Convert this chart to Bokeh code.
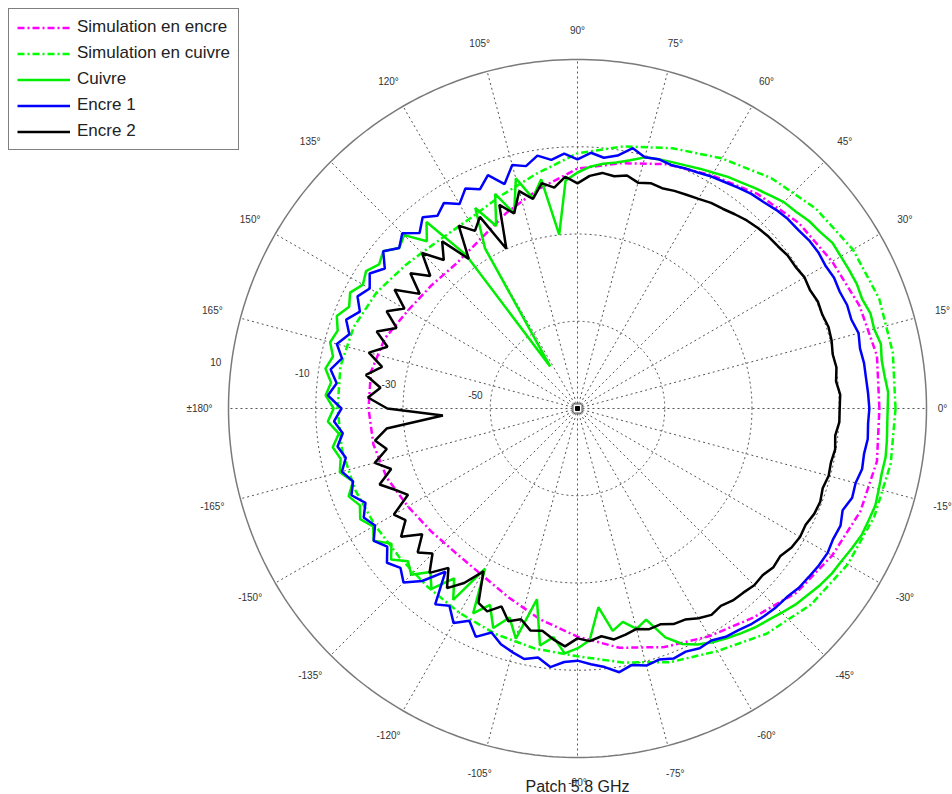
import numpy as np
from bokeh.plotting import figure
from bokeh.models import Range1d, Legend, LegendItem, Label
from bokeh.core.properties import value
from bokeh.embed import file_html
from bokeh.resources import INLINE

# ---------------- data (dB) ----------------
R_MIN = -70
R_MAX = 10

meas_angles = list(range(0, 360, 3))   # degrees
sim_angles = list(range(0, 360, 10))   # degrees

cuivre = [
    1.1, 1.3, 0.8, 0.6, 1.1, 0.4, 0.6, -0.1, 0.1, -0.1,
    -0.3, -0.3, -1.2, -1.7, -2.6, -3.1, -4.2, -5.1, -6.0, -6.7,
    -7.6, -8.3, -9.0, -9.5, -9.9, -10.4, -11.8, -12.9, -13.6, -14.5,
    -15.9, -17.7, -29.9, -16.8, -20.7, -15.4, -23.0, -17.3, -24.2, -18.4,
    -27.6, -58.5, -26.4, -15.0, -18.4, -13.8, -15.0, -12.7, -13.8, -12.2,
    -13.2, -11.5, -12.7, -10.9, -12.2, -11.3, -12.7, -11.5, -13.2, -12.2,
    -14.1, -12.7, -15.0, -13.2, -14.5, -13.6, -15.9, -13.8, -15.4, -14.1,
    -15.9, -14.3, -17.3, -15.0, -17.7, -16.1, -19.6, -16.8, -21.9, -17.7,
    -27.6, -17.3, -20.7, -16.1, -19.6, -15.4, -25.3, -15.0, -17.3, -13.8,
    -15.0, -16.8, -24.2, -18.4, -20.0, -17.7, -19.1, -13.8, -10.9, -9.3,
    -8.1, -7.2, -6.3, -5.4, -4.7, -3.8, -2.8, -2.1, -1.2, -0.5,
    -0.1, 0.6, 1.3, 1.5, 1.8, 1.5, 1.3, 1.5, 1.3, 1.1,
]

encre1 = [
    -3.1, -3.3, -3.5, -3.5, -3.8, -3.3, -4.0, -3.8, -4.2, -4.0,
    -4.4, -4.2, -4.4, -4.9, -5.1, -5.6, -6.3, -6.7, -7.4, -8.1,
    -8.6, -9.3, -9.7, -10.2, -9.9, -10.4, -9.0, -11.3, -12.2, -11.3,
    -12.9, -11.5, -12.7, -11.3, -13.2, -12.2, -15.9, -12.7, -15.0, -13.4,
    -15.9, -13.8, -15.4, -13.6, -15.9, -13.2, -15.0, -12.7, -15.4, -13.2,
    -15.0, -13.4, -15.4, -13.2, -15.0, -12.9, -14.8, -12.7, -14.5, -12.7,
    -15.9, -14.1, -15.9, -14.3, -15.7, -14.1, -15.9, -14.5, -16.8, -15.0,
    -16.4, -14.3, -16.1, -13.8, -15.4, -13.6, -16.8, -21.9, -14.5, -16.1,
    -13.2, -15.4, -12.7, -15.0, -13.2, -12.2, -11.3, -12.2, -10.4, -11.8,
    -12.2, -11.3, -10.4, -8.8, -9.9, -9.0, -9.5, -8.6, -9.0, -8.3,
    -8.6, -7.6, -7.2, -6.5, -6.0, -5.6, -5.4, -4.7, -4.4, -4.0,
    -3.8, -4.2, -4.0, -4.9, -3.8, -4.0, -3.3, -3.5, -3.1, -3.3,
]

encre2 = [
    -9.9, -9.7, -10.4, -9.9, -10.2, -9.7, -9.5, -9.9, -9.7, -10.2,
    -9.9, -10.4, -10.4, -10.9, -11.1, -11.5, -12.0, -12.7, -13.4, -13.8,
    -14.5, -15.0, -15.4, -15.9, -15.7, -16.4, -15.4, -16.1, -15.7, -16.6,
    -18.4, -16.8, -19.1, -17.7, -20.9, -18.4, -23.0, -20.0, -29.9, -20.7,
    -23.0, -20.0, -27.6, -20.7, -24.2, -19.6, -24.6, -20.7, -25.3, -20.0,
    -24.2, -20.9, -24.6, -20.7, -24.2, -20.5, -24.2, -20.9, -24.6, -21.9,
    -26.4, -39.1, -26.0, -23.0, -25.3, -21.9, -25.1, -21.4, -24.2, -26.4,
    -21.4, -23.0, -20.0, -24.2, -20.7, -23.0, -19.3, -23.0, -19.1, -22.3,
    -26.9, -20.0, -19.1, -21.4, -18.7, -20.0, -18.0, -18.4, -16.8, -15.4,
    -17.3, -16.6, -17.5, -16.4, -17.0, -17.7, -16.8, -17.0, -15.9, -15.7,
    -14.5, -13.6, -14.1, -13.4, -13.2, -12.7, -12.9, -12.2, -12.5, -11.5,
    -11.1, -11.3, -10.6, -10.4, -10.9, -10.4, -10.6, -10.2, -10.6, -9.9,
]

sim_cuivre = [
    2.9, 3.4, 3.6, 2.9, 1.3, -1.0, -3.8, -6.5, -9.0, -11.5,
    -15.4, -18.2, -20.0, -20.0, -18.7, -16.8, -15.4, -14.8, -15.0, -15.2,
    -15.7, -16.4, -16.8, -16.6, -15.9, -15.0, -14.1, -13.2, -10.9, -8.1,
    -5.8, -2.6, -0.1, 1.5, 2.4, 2.9,
]

sim_encre = [
    -0.8, -0.3, -1.2, -2.6, -3.8, -5.8, -8.3, -10.4, -12.9, -15.0,
    -18.9, -22.3, -25.3, -26.7, -26.2, -25.1, -23.0, -21.9, -22.1, -22.5,
    -23.5, -25.1, -26.2, -26.7, -26.0, -23.9, -20.9, -17.7, -14.3, -11.8,
    -9.7, -7.4, -4.4, -2.6, -1.0, -0.3,
]

ring_values = [-50, -30, -10]
ring_labels = ["-50", "-30", "-10", "10"]
angle_ticks = list(range(0, 360, 15))
angle_labels = ["0°", "15°", "30°", "45°", "60°", "75°", "90°", "105°", "120°",
                "135°", "150°", "165°", "±180°", "-165°", "-150°", "-135°",
                "-120°", "-105°", "-90°", "-75°", "-60°", "-45°", "-30°", "-15°"]
title_text = "Patch 5.8 GHz"

# ---------------- geometry ----------------
W, H = 952, 794
PX = 349.0 / (R_MAX - R_MIN)       # pixels per dB unit
CX, CY = 577, 408                   # centre, from left / from top (figure px)
FONT = value("Liberation Sans")


def to_xy(angles, vals):
    a = np.deg2rad(np.array(list(angles) + [angles[0]], dtype=float))
    r = np.clip(np.array(list(vals) + [vals[0]], dtype=float) - R_MIN, 0, None)
    return r * np.cos(a), r * np.sin(a)


p = figure(width=W, height=H, output_backend="svg", toolbar_location=None,
           x_range=Range1d(-CX / PX, (W - CX) / PX),
           y_range=Range1d(-(H - CY) / PX, CY / PX),
           min_border=0, min_border_left=0, min_border_right=0,
           min_border_top=0, min_border_bottom=0)
p.axis.visible = False
p.xgrid.visible = False
p.ygrid.visible = False
p.outline_line_color = None
p.background_fill_color = "white"

R_OUT = R_MAX - R_MIN

# spokes
th = np.deg2rad(np.array(angle_ticks, dtype=float))
p.segment(x0=np.zeros(len(th)), y0=np.zeros(len(th)),
          x1=R_OUT * np.cos(th), y1=R_OUT * np.sin(th),
          line_color="#555555", line_width=1, line_dash="2 3")
# rings
tt = np.linspace(0, 2 * np.pi, 361)
for rv in ring_values:
    rr = rv - R_MIN
    p.line(rr * np.cos(tt), rr * np.sin(tt), line_color="#555555",
           line_width=1, line_dash="2 3")
p.line(R_OUT * np.cos(tt), R_OUT * np.sin(tt), line_color="#7a7a7a", line_width=1.5)

# centre marker
p.scatter([0], [0], marker="square", size=9, fill_color="white",
          line_color="#555555", line_width=1)
p.scatter([0], [0], marker="square", size=4, fill_color="black", line_color="black")

# ring labels
lab_ang = np.deg2rad(172.7)
lab_r = np.array(ring_values + [R_MAX], dtype=float) - R_MIN + 3.6
p.text(x=lab_r * np.cos(lab_ang), y=lab_r * np.sin(lab_ang), text=ring_labels,
       text_font=FONT, text_font_size="10px", text_color="#333333",
       text_align="center", text_baseline="middle")

# angle labels (kept inside the edges of the canvas)
ar = 378.0 / PX
ax_lab = np.minimum(ar * np.cos(th), (W - CX - 10) / PX)
ay_lab = np.maximum(ar * np.sin(th), -(782 - CY) / PX)
p.text(x=ax_lab, y=ay_lab, text=angle_labels,
       text_font=FONT, text_font_size="10px", text_color="#333333",
       text_align="center", text_baseline="middle")

# curves
dd = "7 3 2 3"
x, y = to_xy(sim_angles, sim_encre)
r_se = p.line(x, y, line_color="#ff00ff", line_width=2.5, line_dash=dd)
x, y = to_xy(sim_angles, sim_cuivre)
r_sc = p.line(x, y, line_color="#00ff00", line_width=2.5, line_dash=dd)
x, y = to_xy(meas_angles, cuivre)
r_cu = p.line(x, y, line_color="#00ee00", line_width=2.5)
x, y = to_xy(meas_angles, encre1)
r_e1 = p.line(x, y, line_color="#0000ff", line_width=2.5)
x, y = to_xy(meas_angles, encre2)
r_e2 = p.line(x, y, line_color="#000000", line_width=2.5)

# title
p.add_layout(Label(x=0, y=-(786 - CY) / PX, text=title_text,
                   text_font="Liberation Sans", text_font_size="16px",
                   text_color="#222222", text_align="center",
                   text_baseline="alphabetic"))

legend = Legend(items=[
    LegendItem(label="Simulation en encre", renderers=[r_se]),
    LegendItem(label="Simulation en cuivre", renderers=[r_sc]),
    LegendItem(label="Cuivre", renderers=[r_cu]),
    LegendItem(label="Encre 1", renderers=[r_e1]),
    LegendItem(label="Encre 2", renderers=[r_e2]),
], location="top_left")
legend.margin = 8
legend.padding = 8
legend.spacing = 6
legend.label_height = 19
legend.glyph_height = 19
legend.glyph_width = 53
legend.label_standoff = 7
legend.label_text_font = "Liberation Sans"
legend.label_text_font_size = "17px"
legend.label_text_color = "#222222"
legend.border_line_color = "black"
legend.border_line_width = 1
legend.background_fill_alpha = 1
p.add_layout(legend)

open("out.html", "w").write(file_html(p, INLINE))
